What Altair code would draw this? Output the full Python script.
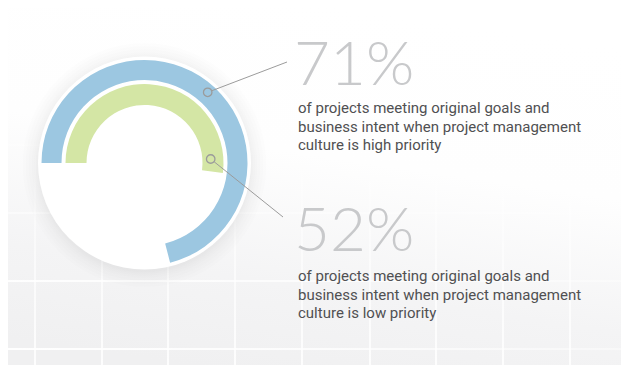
import math
import altair as alt
import pandas as pd

# ---- data ----
categories = ["High priority culture", "Low priority culture"]
percent_values = [71, 52]
big_labels = ["71%", "52%"]
descriptions = [
    "of projects meeting original goals and\nbusiness intent when project management\nculture is high priority",
    "of projects meeting original goals and\nbusiness intent when project management\nculture is low priority",
]
ring_colors = ["#9cc7e1", "#d4e6a5"]

# ---- layout ----
W, H = 613, 357
OFF = 8


def px(v):
    return v - OFF


cx, cy = px(144.5), px(163)
one = pd.DataFrame({"a": [0]})

bg = alt.Chart(one).mark_rect(
    color=alt.LinearGradient(
        gradient="linear",
        stops=[
            alt.GradientStop(color="#ffffff", offset=0),
            alt.GradientStop(color="#fefefe", offset=0.4),
            alt.GradientStop(color="#f4f4f5", offset=0.75),
            alt.GradientStop(color="#f0f0f1", offset=1),
        ],
        x1=0.55, y1=0, x2=0.3, y2=1,
    )
).encode(x=alt.value(0), x2=alt.value(W), y=alt.value(0), y2=alt.value(H))

layers = [bg]

# decorative grid
for gx in [35, 102, 168, 235, 302, 370, 436, 503, 570]:
    layers.append(
        alt.Chart(one).mark_rect(
            opacity=0.85,
            color=alt.LinearGradient(
                gradient="linear",
                stops=[
                    alt.GradientStop(color="rgba(255,255,255,0)", offset=0),
                    alt.GradientStop(color="rgba(255,255,255,0.7)", offset=0.6),
                    alt.GradientStop(color="rgba(255,255,255,1)", offset=1),
                ],
                x1=0, y1=0, x2=0, y2=1,
            )
        ).encode(x=alt.value(px(gx) - 1), x2=alt.value(px(gx) + 1),
                 y=alt.value(px(120)), y2=alt.value(H))
    )
for gy, op in [(145, 0.25), (213, 0.5), (281, 0.9), (349, 1.0)]:
    layers.append(
        alt.Chart(one).mark_rect(
            opacity=op,
            color=alt.LinearGradient(
                gradient="linear",
                stops=[
                    alt.GradientStop(color="rgba(255,255,255,1)", offset=0),
                    alt.GradientStop(color="rgba(255,255,255,0.8)", offset=0.5),
                    alt.GradientStop(color="rgba(255,255,255,0.4)", offset=1),
                ],
                x1=0, y1=0, x2=1, y2=0,
            )
        ).encode(x=alt.value(0), x2=alt.value(W),
                 y=alt.value(px(gy) - 1), y2=alt.value(px(gy) + 1))
    )

# shadow + white disc (Vega symbol size = (diameter)^2)
for r in [122, 119, 116, 113, 111, 109, 107.5]:
    layers.append(
        alt.Chart(one).mark_point(shape="circle", filled=True, color="#000000",
                                  opacity=0.009, strokeWidth=0, size=(2 * r) ** 2)
        .encode(x=alt.value(cx), y=alt.value(cy + 2))
    )
layers.append(
    alt.Chart(one).mark_point(shape="circle", filled=True, color="#ffffff",
                              opacity=1, strokeWidth=0, size=(2 * 106.5) ** 2)
    .encode(x=alt.value(cx), y=alt.value(cy))
)

# rings
df = pd.DataFrame({"cat": categories, "start": [0, 0], "value": percent_values,
                   "color": ring_colors})
theta_scale = alt.Scale(domain=[0, 100], range=[1.5 * math.pi, 3.5 * math.pi])
radii = [(83, 103), (58, 79)]
for i, (ri, ro) in enumerate(radii):
    layers.append(
        alt.Chart(df.iloc[[i]]).mark_arc(innerRadius=ri, outerRadius=ro,
                                         color=ring_colors[i])
        .encode(theta=alt.Theta("start:Q", scale=theta_scale, stack=None),
                theta2="value:Q",
                x=alt.value(cx), y=alt.value(cy))
    )

# leader lines and markers
leaders = [((207.7, 92.3), (287, 62)), ((210.7, 159), (283, 217))]
for (mx, my), (ex, ey) in leaders:
    dx, dy = ex - mx, ey - my
    d = math.hypot(dx, dy)
    sx, sy = mx + dx / d * 4.5, my + dy / d * 4.5
    layers.append(
        alt.Chart(one).mark_rule(color="#9b9b9b", strokeWidth=1)
        .encode(x=alt.value(px(sx)), y=alt.value(px(sy)),
                x2=alt.value(px(ex)), y2=alt.value(px(ey)))
    )
    layers.append(
        alt.Chart(one).mark_point(shape="circle", filled=False, size=72,
                                  color="#9b9b9b", strokeWidth=1.3, opacity=1)
        .encode(x=alt.value(px(mx)), y=alt.value(px(my)))
    )

# texts
big_pos = [(294, 85), (294, 251)]
desc_pos = [(298, 113), (298, 281)]
for i in range(2):
    layers.append(
        alt.Chart(pd.DataFrame({"t": [big_labels[i]]})).mark_text(
            align="left", baseline="alphabetic", font="Lato", fontWeight=300,
            fontSize=62, color="#c8c9cb"
        ).encode(text="t:N", x=alt.value(px(big_pos[i][0])), y=alt.value(px(big_pos[i][1])))
    )
    layers.append(
        alt.Chart(pd.DataFrame({"t": [descriptions[i]]})).mark_text(
            align="left", baseline="alphabetic", font="Roboto",
            fontSize=15, color="#505052", lineBreak="\n", lineHeight=18.5
        ).encode(text="t:N", x=alt.value(px(desc_pos[i][0])), y=alt.value(px(desc_pos[i][1])))
    )

chart = alt.layer(*layers).properties(
    width=W, height=H, padding=0, autosize="none"
).configure_view(stroke=None)

chart.save("out.html", embed_options={"renderer": "svg", "actions": False})
